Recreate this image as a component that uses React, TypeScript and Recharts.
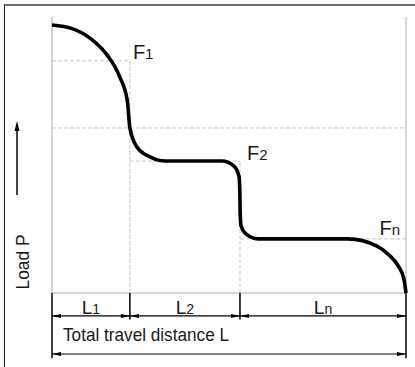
import React from 'react';
import { ComposedChart, Line, XAxis, YAxis, ReferenceLine, ReferenceDot } from 'recharts';

// Travel distance (% of total L) and load (% of scale)
const travel = [0, 5.7, 11.0, 15.6, 19.1, 21.3, 22.0, 24.0, 27.7, 30.5, 33.3, 48.0, 51.4, 52.8, 53.05, 53.15, 53.4, 54.8, 58.2, 83.6, 91.8, 95.2, 97.8, 99.4, 100];
const load = [97.1, 95.8, 92.1, 86.2, 78.4, 69.5, 59.8, 52.9, 49.3, 48.0, 47.8, 47.8, 46.0, 42.4, 37.3, 29.3, 24.3, 21.4, 19.6, 19.6, 17.0, 13.8, 9.8, 5.1, 0];

// Stage boundaries along travel (L1, L2, Ln) and stage loads (F1, F2, Fn)
const stageBounds = [0, 22.0, 53.1, 100];
const stageLoads = [84.1, 47.8, 19.6];
const stageSubs = ['1', '2', 'n'];
const midLoad = 59.8;
const axisTitle = 'Load P';
const totalTitle = 'Total travel distance L';

const data = travel.map((x, i) => ({ x, y: load[i] }));

const FONT = '"Liberation Sans", Arial, sans-serif';
const INK = '#1a1a1a';
const GRID = '#c8c8c8';
const DIM1 = -8.3;
const DIM2 = -22.1;
const TICK_IN = -9.6;
const TICK_OUT = -23.6;

const DimLine = (p: any) => {
  const { x1, y1, x2, y2 } = p;
  const L = 9;
  const w = 2;
  return (
    <g>
      <line x1={x1} y1={y1} x2={x2} y2={y2} stroke="#000" strokeWidth={1.2} />
      <polygon points={`${x1},${y1} ${x1 + L},${y1 - w} ${x1 + L},${y1 + w}`} fill="#000" />
      <polygon points={`${x2},${y2} ${x2 - L},${y2 - w} ${x2 - L},${y2 + w}`} fill="#000" />
    </g>
  );
};

const subText = (main: string, sub: string, dx: number, dy: number, anchor: string, fs: number, sfs: number) => (p: any) => (
  <text x={p.cx + dx} y={p.cy + dy} textAnchor={anchor} fontFamily={FONT} fontSize={fs} fill={INK}>
    {main}
    <tspan fontSize={sfs}>{sub}</tspan>
  </text>
);

const TotalLabel = (p: any) => (
  <text
    x={p.cx + 11}
    y={p.cy - 13}
    fontFamily={FONT}
    fontSize={19}
    textLength={166}
    lengthAdjust="spacingAndGlyphs"
    fill={INK}
  >
    {totalTitle}
  </text>
);

const LoadLabel = (p: any) => {
  const vb = p.viewBox || { x: 7, y: 17 };
  const ax = vb.x + 10;
  const tx = vb.x + 15;
  const ty = vb.y + 245;
  return (
    <g>
      <line x1={ax} y1={vb.y + 178} x2={ax} y2={vb.y + 112} stroke="#000" strokeWidth={1.5} />
      <polygon points={`${ax},${vb.y + 104} ${ax - 2.5},${vb.y + 114} ${ax + 2.5},${vb.y + 114}`} fill="#000" />
      <text
        x={tx}
        y={ty}
        transform={`rotate(-90 ${tx} ${ty})`}
        textAnchor="middle"
        dominantBaseline="central"
        fontFamily={FONT}
        fontSize={19}
        textLength={55}
        lengthAdjust="spacingAndGlyphs"
        fill={INK}
      >
        {axisTitle}
      </text>
    </g>
  );
};

export default function App() {
  const fOffsets = [
    { dx: 3, dy: -2, anchor: 'start' },
    { dx: 7, dy: -1, anchor: 'start' },
    { dx: -6, dy: -4, anchor: 'end' },
  ];
  return (
    <div style={{ position: 'absolute', left: 0, top: 0, width: 415, height: 367, background: '#fff' }}>
      <div
        style={{
          position: 'absolute',
          left: 4,
          top: 4,
          width: 411,
          height: 363,
          borderLeft: '1px solid #111',
          borderTop: '2px solid #6e6e6e',
          boxSizing: 'border-box',
        }}
      />
      <div style={{ position: 'absolute', left: 0, top: 0 }}>
        <ComposedChart width={415} height={367} data={data} margin={{ top: 17, right: 9, bottom: 5, left: 7 }}>
          <XAxis dataKey="x" type="number" domain={[0, 100]} hide />
          <YAxis
            type="number"
            domain={[-25, 100]}
            width={45}
            tick={false}
            tickLine={false}
            axisLine={false}
            label={{ content: LoadLabel }}
          />
          {/* plot frame */}
          <ReferenceLine segment={[{ x: 0, y: 0 }, { x: 0, y: 100 }]} stroke={GRID} strokeWidth={1.5} />
          <ReferenceLine segment={[{ x: 100, y: 0 }, { x: 100, y: 100 }]} stroke={GRID} strokeWidth={1.5} />
          <ReferenceLine segment={[{ x: 0, y: 0 }, { x: 100, y: 0 }]} stroke={GRID} strokeWidth={1.5} />
          {/* middle dashed line */}
          <ReferenceLine segment={[{ x: 0, y: midLoad }, { x: 100, y: midLoad }]} stroke={GRID} strokeDasharray="4 2" />
          {/* stage dashed lines */}
          {stageLoads.map((f, i) => (
            <ReferenceLine
              key={'h' + i}
              segment={[{ x: stageBounds[i], y: f }, { x: stageBounds[i + 1], y: f }]}
              stroke={GRID}
              strokeDasharray="4 2"
            />
          ))}
          {stageLoads.slice(0, 2).map((f, i) => (
            <ReferenceLine
              key={'v' + i}
              segment={[{ x: stageBounds[i + 1], y: 0 }, { x: stageBounds[i + 1], y: f }]}
              stroke={GRID}
              strokeDasharray="4 2"
            />
          ))}
          {/* dimension ticks */}
          {stageBounds.map((b, i) => (
            <ReferenceLine
              key={'t' + i}
              segment={[{ x: b, y: 0 }, { x: b, y: i === 0 || i === stageBounds.length - 1 ? TICK_OUT : TICK_IN }]}
              stroke="#000"
              strokeWidth={1.5}
            />
          ))}
          {/* dimension lines */}
          {stageSubs.map((s, i) => (
            <ReferenceLine
              key={'d' + i}
              segment={[{ x: stageBounds[i], y: DIM1 }, { x: stageBounds[i + 1], y: DIM1 }]}
              shape={DimLine}
            />
          ))}
          <ReferenceLine segment={[{ x: 0, y: DIM2 }, { x: 100, y: DIM2 }]} shape={DimLine} />
          {/* L labels */}
          {stageSubs.map((s, i) => (
            <ReferenceDot
              key={'l' + i}
              x={(stageBounds[i] + stageBounds[i + 1]) / 2}
              y={DIM1}
              shape={subText('L', s, 0, -2, 'middle', 19, 14)}
            />
          ))}
          <ReferenceDot x={stageBounds[0]} y={DIM2} shape={TotalLabel} />
          {/* F labels */}
          {stageLoads.map((f, i) => (
            <ReferenceDot
              key={'f' + i}
              x={stageBounds[i + 1]}
              y={f}
              shape={subText('F', stageSubs[i], fOffsets[i].dx, fOffsets[i].dy, fOffsets[i].anchor, 20, 15)}
            />
          ))}
          <Line
            type="monotone"
            dataKey="y"
            stroke="#000"
            strokeWidth={3.6}
            dot={false}
            activeDot={false}
            isAnimationActive={false}
          />
        </ComposedChart>
      </div>
    </div>
  );
}
